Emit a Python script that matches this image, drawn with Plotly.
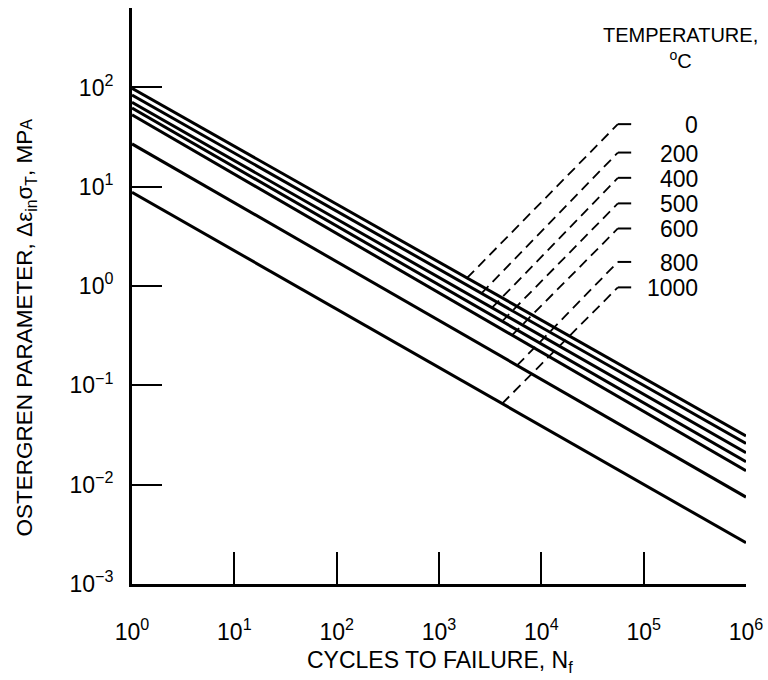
import math
import plotly.graph_objects as go

# ---- data ----
temperatures = ["0", "200", "400", "500", "600", "800", "1000"]
param_at_N1 = [98.0, 84.0, 71.0, 62.0, 53.0, 27.0, 8.8]          # MPa at N_f = 1
param_at_N1e6 = [0.031, 0.026, 0.021, 0.017, 0.0138, 0.0075, 0.0026]  # MPa at N_f = 1e6
n_start = 1.0
n_end = 1.0e6

# cycles at which each label's leader meets its line
leader_attach_N = [1880, 2600, 3300, 4140, 5180, 5800, 4140]
# level of each label (MPa, on the y scale)
label_level = [42.7, 22.1, 12.3, 6.8, 3.8, 1.75, 0.97]

x_ticks = [1, 10, 100, 1e3, 1e4, 1e5, 1e6]
x_ticktext = ["10<sup>0</sup>", "10<sup>1</sup>", "10<sup>2</sup>", "10<sup>3</sup>",
              "10<sup>4</sup>", "10<sup>5</sup>", "10<sup>6</sup>"]
y_ticks = [1e-3, 1e-2, 1e-1, 1, 10, 100]
y_ticktext = ["10<sup>\u22123</sup>", "10<sup>\u22122</sup>", "10<sup>\u22121</sup>",
              "10<sup>0</sup>", "10<sup>1</sup>", "10<sup>2</sup>"]

FONT = "Liberation Sans, Arial, sans-serif"

fig = go.Figure()

for t, a, b in zip(temperatures, param_at_N1, param_at_N1e6):
    fig.add_trace(go.Scatter(x=[n_start, n_end], y=[a, b], mode="lines",
                             line=dict(color="black", width=3),
                             name=t, showlegend=False, hoverinfo="skip"))

# leader lines
seg_start_log = 4.748
seg_end_log = 4.878
for t, a, b, na, lev in zip(temperatures, param_at_N1, param_at_N1e6,
                            leader_attach_N, label_level):
    la, lb = math.log10(a), math.log10(b)
    frac = (math.log10(na) - math.log10(n_start)) / (math.log10(n_end) - math.log10(n_start))
    y_at = 10 ** (la + (lb - la) * frac)
    fig.add_trace(go.Scatter(x=[na, 10 ** seg_start_log], y=[y_at, lev], mode="lines",
                             line=dict(color="black", width=1.8, dash="10px,6px"),
                             showlegend=False, hoverinfo="skip"))
    fig.add_trace(go.Scatter(x=[10 ** seg_start_log, 10 ** seg_end_log], y=[lev, lev],
                             mode="lines", line=dict(color="black", width=2),
                             showlegend=False, hoverinfo="skip"))
    fig.add_annotation(x=5.551, y=math.log10(lev), xref="x", yref="y", text=t,
                       showarrow=False, xanchor="right", yanchor="middle", yshift=-1,
                       font=dict(family=FONT, size=23, color="black"))

# header
fig.add_annotation(x=0.893, y=0.976, xref="paper", yref="paper",
                   text="TEMPERATURE,<br><sup>o</sup>C", showarrow=False,
                   xanchor="center", yanchor="top", align="center",
                   font=dict(family=FONT, size=20, color="black"))

# axis titles as annotations
fig.add_annotation(x=0.502, y=-0.135, xref="paper", yref="paper",
                   text="CYCLES TO FAILURE, N<sub>f</sub>", showarrow=False,
                   xanchor="center", yanchor="middle",
                   font=dict(family=FONT, size=23, color="black"))
fig.add_annotation(x=-0.172, y=0.446, xref="paper", yref="paper",
                   text="OSTERGREN PARAMETER, \u0394\u03b5<sub>in</sub>\u03c3<sub>T</sub>, MP<span style='font-size:16px'>A</span>",
                   showarrow=False, textangle=-90, xanchor="center", yanchor="middle",
                   font=dict(family=FONT, size=22.5, color="black"))

axis_common = dict(type="log", showgrid=False, zeroline=False, showline=True,
                   linecolor="black", linewidth=3, ticks="inside", tickcolor="black",
                   tickwidth=2, mirror=False, automargin=False,
                   tickfont=dict(family=FONT, size=23, color="black"))

fig.update_layout(
    width=768, height=680,
    margin=dict(l=132, r=22, t=8, b=96, autoexpand=False),
    paper_bgcolor="white", plot_bgcolor="white",
    showlegend=False,
    xaxis=dict(range=[0, 6], tickvals=x_ticks, ticktext=x_ticktext, ticklen=32,
               ticklabelstandoff=25, **axis_common),
    yaxis=dict(range=[-3, 2.80], tickvals=y_ticks, ticktext=y_ticktext, ticklen=30,
               ticklabelstandoff=11, **axis_common),
)

fig.write_html(
    "out.html",
    config={"displayModeBar": False},
    post_script="document.body.style.margin='0';document.body.style.overflow='hidden';",
)
